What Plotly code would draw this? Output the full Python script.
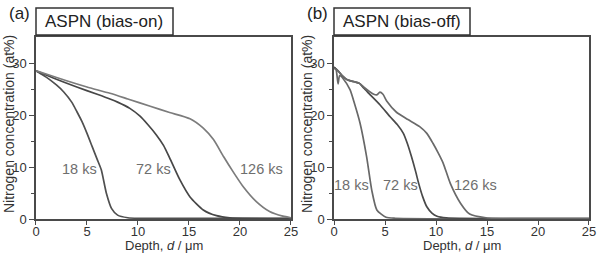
import plotly.graph_objects as go

# ---- data ----
a_18_d = [0, 0.5, 1, 2, 2.7, 3.5, 4, 4.5, 5, 5.5, 6, 6.4, 6.9, 7.4, 8, 9, 10, 15, 20, 25]
a_18_n = [28.5, 27.9, 27.3, 25.8, 24.5, 22.5, 20.7, 18.8, 16.5, 14.0, 11.5, 9.5, 5.0, 2.1, 0.8, 0.3, 0.2, 0.2, 0.2, 0.2]

a_72_d = [0, 1, 2, 4, 6, 7.25, 8, 9.2, 10.2, 11, 11.8, 12.5, 13.1, 14.1, 15.1, 16.4, 17.7, 19, 25]
a_72_n = [28.5, 27.7, 26.9, 25.4, 24.0, 23.1, 22.5, 21.3, 19.8, 18.1, 16.2, 14.2, 11.8, 7.6, 4.3, 1.8, 0.7, 0.3, 0.15]

a_126_d = [0, 1, 3, 5, 7.25, 9, 11.2, 13.1, 15.1, 16.4, 17.4, 18.4, 19.3, 20.3, 21.6, 22.9, 24.2, 25]
a_126_n = [28.5, 27.9, 26.6, 25.4, 24.2, 23.1, 21.7, 20.5, 19.3, 17.5, 15.3, 12.0, 9.2, 6.3, 3.4, 1.5, 0.6, 0.3]

b_18_d = [0, 0.2, 0.4, 0.55, 0.9, 1.57, 2.0, 2.55, 3.2, 3.7, 4.2, 5.1, 6, 25]
b_18_n = [29.2, 28.8, 26.0, 27.6, 27.0, 24.9, 22.3, 18.5, 12.0, 5.6, 1.8, 0.4, 0.2, 0.15]

b_72_d = [0, 0.4, 0.8, 1.3, 2.0, 2.5, 2.9, 3.5, 4.5, 5.5, 6.2, 6.8, 7.2, 7.6, 8.0, 8.3, 8.7, 9.1, 9.6, 10.1, 11, 25]
b_72_n = [29.2, 28.5, 27.6, 26.8, 26.4, 26.1, 25.2, 24.0, 22.0, 19.7, 18.2, 16.5, 14.5, 12.0, 9.2, 6.9, 4.3, 2.4, 1.2, 0.6, 0.3, 0.15]

b_126_d = [0, 0.4, 0.8, 1.3, 2.0, 2.5, 2.9, 3.5, 3.9, 4.2, 4.5, 4.8, 5.2, 6.1, 7.2, 8.4, 9.1, 9.7, 10.2, 10.7, 11.4, 12.4, 13.3, 14.9, 25]
b_126_n = [29.0, 28.5, 27.6, 26.8, 26.4, 26.1, 25.4, 24.5, 24.0, 23.9, 24.4, 24.0, 22.6, 20.6, 19.2, 17.8, 16.5, 14.6, 12.8, 10.8, 6.9, 3.1, 1.0, 0.3, 0.15]

times = ["18 ks", "72 ks", "126 ks"]
panel_titles = ["ASPN (bias-on)", "ASPN (bias-off)"]
panel_letters = ["(a)", "(b)"]
x_ticks = [0, 5, 10, 15, 20, 25]
y_ticks = [0, 10, 20, 30]

FONT = "Liberation Sans, Arial, sans-serif"
AX = "#4a4a4a"

fig = go.Figure()

series = [
    ("x", "y", a_18_d, a_18_n, "#505050"),
    ("x", "y", a_72_d, a_72_n, "#474747"),
    ("x", "y", a_126_d, a_126_n, "#7c7c7c"),
    ("x2", "y2", b_18_d, b_18_n, "#686868"),
    ("x2", "y2", b_72_d, b_72_n, "#4a4a4a"),
    ("x2", "y2", b_126_d, b_126_n, "#6a6a6a"),
]
for xa, ya, d, n, c in series:
    fig.add_trace(go.Scatter(x=d, y=n, xaxis=xa, yaxis=ya, mode="lines",
                             line=dict(color=c, width=1.7, shape="spline", smoothing=0.6),
                             showlegend=False, hoverinfo="skip"))

axcommon = dict(showline=True, linecolor=AX, linewidth=1.5, mirror=True,
                ticks="outside", tickwidth=1.2, tickcolor=AX,
                showgrid=False, zeroline=False, automargin=False,
                tickfont=dict(family=FONT, size=13, color="#333"))
ydom = [0.1366, 0.8543]
fig.update_layout(
    width=599, height=254,
    margin=dict(l=0, r=0, t=0, b=0, autoexpand=False),
    paper_bgcolor="white", plot_bgcolor="white",
    xaxis=dict(domain=[0.0601, 0.4858], range=[0, 25], tickvals=x_ticks, anchor="y", ticklen=4,
               ticklabelstandoff=-5, **axcommon),
    xaxis2=dict(domain=[0.5576, 0.9833], range=[0, 25], tickvals=x_ticks, anchor="y2", ticklen=4,
                ticklabelstandoff=-5, **axcommon),
    yaxis=dict(domain=ydom, range=[0, 35], tickvals=y_ticks, anchor="x", ticklen=5,
               minor=dict(tickvals=[5, 15, 25], ticks="outside", ticklen=3, tickcolor=AX), **axcommon),
    yaxis2=dict(domain=ydom, range=[0, 35], tickvals=y_ticks, anchor="x2", ticklen=5,
                minor=dict(tickvals=[5, 15, 25], ticks="outside", ticklen=3, tickcolor=AX), **axcommon),
)

# panel label boxes
boxes = [(36, 173), (334, 470)]
W, H = 599, 254
for (x0, x1), title, letter, xc in zip(boxes, panel_titles, panel_letters, [(36 + 291) / 2, (334 + 589) / 2]):
    fig.add_shape(type="rect", xref="paper", yref="paper",
                  x0=x0 / W, x1=x1 / W, y0=1 - 35 / H, y1=1 - 8 / H,
                  line=dict(color="#333", width=1.5), fillcolor="white")
    fig.add_annotation(xref="paper", yref="paper", x=(x0 + 7) / W, y=1 - 21.5 / H,
                       text=title, showarrow=False, xanchor="left", yanchor="middle",
                       font=dict(family=FONT, size=17, color="#222"))
    fig.add_annotation(xref="paper", yref="paper", x=(x0 - 29) / W, y=1 - 13 / H,
                       text=letter, showarrow=False, xanchor="left", yanchor="middle",
                       font=dict(family=FONT, size=17, color="#222"))
    fig.add_annotation(xref="paper", yref="paper", x=xc / W, y=1 - 245 / H,
                       text="Depth, <i>d</i> / μm", showarrow=False, xanchor="center", yanchor="middle",
                       font=dict(family=FONT, size=13, color="#333"))
    fig.add_annotation(xref="paper", yref="paper", x=(x0 - 27) / W, y=1 - 124 / H,
                       text="Nitrogen concentration (at%)", showarrow=False, textangle=-90,
                       xanchor="center", yanchor="middle",
                       font=dict(family=FONT, size=14, color="#333"))

# curve labels
lab_a = [(4.3, 9.7), (11.5, 9.7), (22.1, 9.7)]
lab_b = [(1.73, 6.6), (6.5, 6.6), (13.9, 6.6)]
for (xx, yy), t in zip(lab_a, times):
    fig.add_annotation(xref="x", yref="y", x=xx, y=yy, text=t, showarrow=False,
                       font=dict(family=FONT, size=14.5, color="#6e6e6e"))
for (xx, yy), t in zip(lab_b, times):
    fig.add_annotation(xref="x2", yref="y2", x=xx, y=yy, text=t, showarrow=False,
                       font=dict(family=FONT, size=14.5, color="#6e6e6e"))

fig.write_html("out.html")
